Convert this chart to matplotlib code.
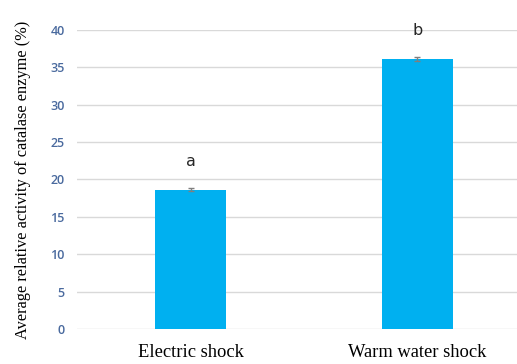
import matplotlib
matplotlib.use("Agg")
import numpy as np
import matplotlib.pyplot as plt

# chart data
categories = ["Electric shock", "Warm water shock"]
activity = [18.6, 36.1]
errors = [0.2, 0.3]
letters = ["a", "b"]

fig = plt.figure(figsize=(5.17, 3.64), dpi=100)
ax = fig.add_axes([0.149, 0.096, 0.878, 0.822])

x = np.arange(len(categories))
ax.bar(x, activity, width=0.31, color="#00B0F0", zorder=3)
ax.errorbar(x, activity, yerr=errors, fmt="none", ecolor="#7F7F7F",
            elinewidth=1, capsize=2, capthick=1, zorder=4)

# significance letters above the bars
for xi, v, lab in zip(x, activity, letters):
    ax.text(xi, v + 3.8, lab, ha="center", va="center", fontsize=11.5,
            family="DejaVu Sans", color="#262626")

ax.set_xlim(-0.5, 1.5)
ax.set_ylim(0, 40)
ax.set_yticks(np.arange(0, 41, 5))
ax.yaxis.grid(True, color="#D9D9D9", linewidth=1)
ax.set_axisbelow(True)
for s in ax.spines.values():
    s.set_visible(False)
ax.tick_params(axis="both", length=0)
ax.tick_params(axis="y", pad=9)
for t in ax.get_yticklabels():
    t.set_fontfamily("Open Sans")
    t.set_fontsize(9)
    t.set_fontweight("semibold")
    t.set_color("#4A6A9E")

ax.set_xticks(x)
ax.set_xticklabels(categories, fontfamily="Liberation Serif", fontsize=13.3)
ax.tick_params(axis="x", pad=11)

ax.set_ylabel("Average relative activity of catalase enzyme (%)",
              fontfamily="Liberation Serif", fontsize=11.8, labelpad=14)

fig.savefig("out.png", dpi=100)
